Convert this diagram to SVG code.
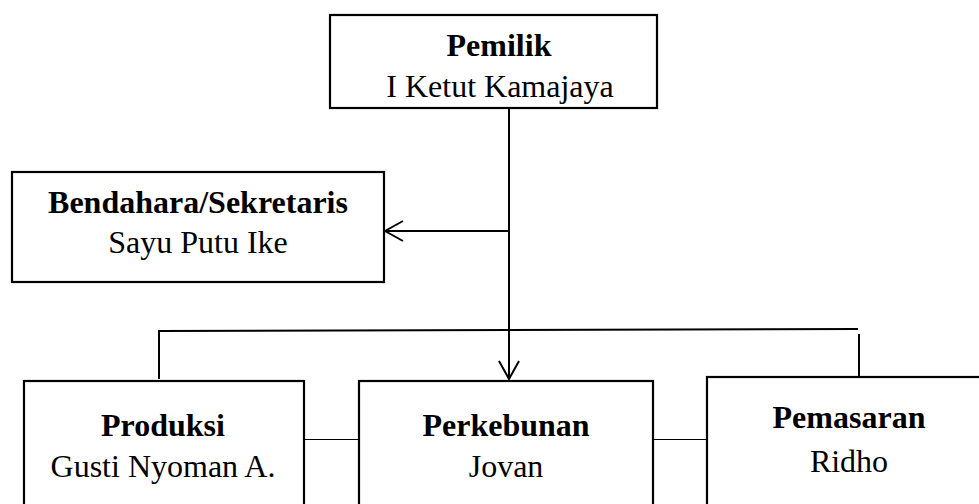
<svg xmlns="http://www.w3.org/2000/svg" width="979" height="504" viewBox="0 0 979 504">
  <style>
    .box { fill: #ffffff; stroke: #000000; stroke-width: 2.2; }
    .line { fill: none; stroke: #000000; stroke-width: 2; }
    .thin { fill: none; stroke: #000000; stroke-width: 1; }
    text { font-family: "Liberation Serif", "Times New Roman", serif; font-size: 32px; fill: #000000; text-anchor: middle; }
    .title { font-weight: bold; }
  </style>
  <defs>
    <marker id="open-arrow" viewBox="0 0 20 22" refX="19" refY="11" markerWidth="20" markerHeight="22" markerUnits="userSpaceOnUse" orient="auto">
      <path d="M1,1 L19,11 L1,21" fill="none" stroke="#000000" stroke-width="2"/>
    </marker>
  </defs>

  <rect width="979" height="504" fill="#ffffff"/>

  <!-- connectors -->
  <g id="connectors">
    <line class="line" x1="509" y1="108" x2="509" y2="379" marker-end="url(#open-arrow)"/>
    <line class="line" x1="509" y1="231" x2="385" y2="231" marker-end="url(#open-arrow)"/>
    <polyline class="line" points="159,379 159,331 858,329"/>
    <line class="line" x1="859" y1="334" x2="859" y2="380"/>
    <line class="thin" x1="304" y1="439.5" x2="358" y2="439.5"/>
    <line class="thin" x1="653" y1="439.5" x2="707" y2="439.5"/>
  </g>

  <!-- owner -->
  <g id="pemilik">
    <rect class="box" x="330" y="15" width="327" height="93"/>
    <text class="title" x="499" y="56">Pemilik</text>
    <text x="500" y="97">I Ketut Kamajaya</text>
  </g>

  <!-- treasurer / secretary -->
  <g id="bendahara">
    <rect class="box" x="12" y="172" width="372" height="110"/>
    <text class="title" x="198" y="213">Bendahara/Sekretaris</text>
    <text x="198" y="253">Sayu Putu Ike</text>
  </g>

  <!-- production -->
  <g id="produksi">
    <rect class="box" x="24" y="381" width="280" height="140"/>
    <text class="title" x="163" y="436">Produksi</text>
    <text x="163" y="477">Gusti Nyoman A.</text>
  </g>

  <!-- plantation -->
  <g id="perkebunan">
    <rect class="box" x="359" y="381" width="294" height="140"/>
    <text class="title" x="506" y="436">Perkebunan</text>
    <text x="506" y="477">Jovan</text>
  </g>

  <!-- marketing -->
  <g id="pemasaran">
    <rect class="box" x="707" y="377" width="290" height="140"/>
    <text class="title" x="849" y="428">Pemasaran</text>
    <text x="849" y="472">Ridho</text>
  </g>
</svg>
